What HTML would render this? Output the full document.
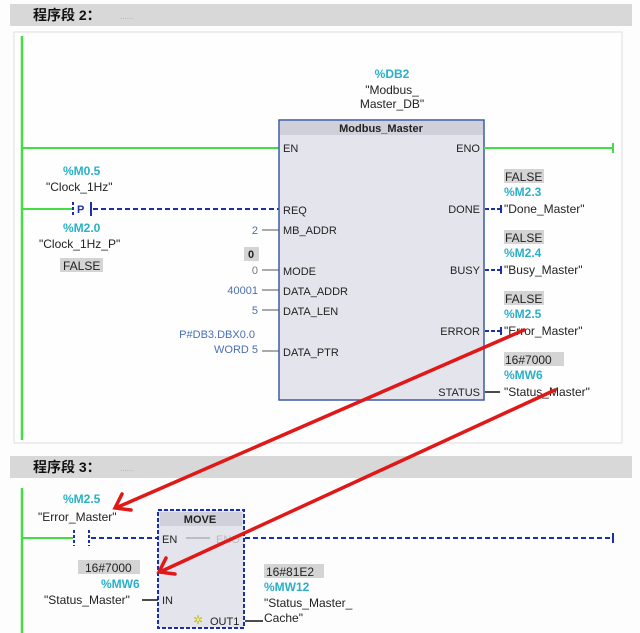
<!DOCTYPE html>
<html><head><meta charset="utf-8"><style>
html,body{margin:0;padding:0;background:#fdfdfd;width:640px;height:633px;overflow:hidden}
svg text{font-family:"Liberation Sans","Noto Sans CJK SC",sans-serif;font-size:11px;fill:#222}
.c{fill:#2ab0c8}
.b{fill:#4a6fb0}
.t{font-size:12px}
</style></head><body>
<svg width="640" height="633" viewBox="0 0 640 633" xmlns="http://www.w3.org/2000/svg">
<rect x="0" y="0" width="640" height="633" fill="#fdfdfd"/>
<rect x="10" y="4" width="622" height="22" fill="#d8d8d8"/>
<text x="33" y="20" style="font-size:14px;font-weight:bold;fill:#111">程序段 2：</text>
<text x="120" y="19" style="font-size:8px;fill:#aaa">......</text>
<rect x="14" y="32" width="608" height="411" fill="#fefefe" stroke="#ddd" stroke-width="1"/>
<rect x="10" y="456" width="622" height="22" fill="#d8d8d8"/>
<text x="33" y="472" style="font-size:14px;font-weight:bold;fill:#111">程序段 3：</text>
<text x="120" y="471" style="font-size:8px;fill:#aaa">......</text>

<line x1="22" y1="36" x2="22" y2="440" stroke="#44dd44" stroke-width="2.5"/>
<line x1="22" y1="148" x2="279" y2="148" stroke="#44dd44" stroke-width="2"/>
<line x1="22" y1="209" x2="72" y2="209" stroke="#44dd44" stroke-width="2"/>
<line x1="73" y1="202" x2="73" y2="216" stroke="#1a2fa8" stroke-width="2" stroke-dasharray="3,2"/>
<line x1="91" y1="202" x2="91" y2="216" stroke="#1a2fa8" stroke-width="2"/>
<text x="77" y="213" style="font-weight:bold;fill:#1a2fa8">P</text>
<line x1="93" y1="209" x2="279" y2="209" stroke="#1a2fa8" stroke-width="2" stroke-dasharray="5,3"/>
<text x="63" y="175" class="c t" style="font-weight:bold">%M0.5</text>
<text x="46" y="191" class="t">"Clock_1Hz"</text>
<text x="63" y="232" class="c t" style="font-weight:bold">%M2.0</text>
<text x="39" y="248" class="t">"Clock_1Hz_P"</text>
<rect x="60" y="258" width="43" height="14" fill="#d4d4d4"/>
<text x="63" y="270" class="t">FALSE</text>

<rect x="279" y="120" width="205" height="280" fill="#e4e4ec" stroke="#3b5aa8" stroke-width="1.5"/>
<rect x="280" y="121" width="203" height="14" fill="#cfd0da"/>
<text x="381" y="132" text-anchor="middle" style="font-weight:bold">Modbus_Master</text>
<text x="392" y="78" text-anchor="middle" class="c t" style="font-weight:bold">%DB2</text>
<text x="392" y="94" text-anchor="middle" class="t">"Modbus_</text>
<text x="392" y="108" text-anchor="middle" class="t">Master_DB"</text>
<g>
<text x="283" y="152">EN</text>
<text x="283" y="214">REQ</text>
<text x="283" y="234">MB_ADDR</text>
<text x="283" y="275">MODE</text>
<text x="283" y="295">DATA_ADDR</text>
<text x="283" y="315">DATA_LEN</text>
<text x="283" y="356">DATA_PTR</text>
<text x="480" y="152" text-anchor="end">ENO</text>
<text x="480" y="213" text-anchor="end">DONE</text>
<text x="480" y="274" text-anchor="end">BUSY</text>
<text x="480" y="335" text-anchor="end">ERROR</text>
<text x="480" y="396" text-anchor="end">STATUS</text>
</g>
<g stroke="#555" stroke-width="1">
<line x1="262" y1="230" x2="279" y2="230"/>
<line x1="262" y1="270" x2="279" y2="270"/>
<line x1="262" y1="290" x2="279" y2="290"/>
<line x1="262" y1="310" x2="279" y2="310"/>
<line x1="262" y1="351" x2="279" y2="351"/>
</g>
<text x="258" y="234" text-anchor="end" class="b">2</text>
<rect x="244" y="247" width="15" height="14" fill="#d4d4d4"/>
<text x="251" y="258" text-anchor="middle" style="font-weight:bold">0</text>
<text x="258" y="274" text-anchor="end" style="fill:#777">0</text>
<text x="258" y="294" text-anchor="end" class="b">40001</text>
<text x="258" y="314" text-anchor="end" class="b">5</text>
<text x="255" y="338" text-anchor="end" class="b">P#DB3.DBX0.0</text>
<text x="258" y="353" text-anchor="end" class="b">WORD 5</text>

<line x1="484" y1="148" x2="613" y2="148" stroke="#44dd44" stroke-width="2"/>
<line x1="613" y1="143" x2="613" y2="153" stroke="#44dd44" stroke-width="2"/>
<g stroke="#1a2fa8" stroke-width="2">
<line x1="485" y1="209" x2="500" y2="209" stroke-dasharray="4,2"/><line x1="501" y1="205" x2="501" y2="213"/>
<line x1="485" y1="270" x2="500" y2="270" stroke-dasharray="4,2"/><line x1="501" y1="266" x2="501" y2="274"/>
<line x1="485" y1="331" x2="500" y2="331" stroke-dasharray="4,2"/><line x1="501" y1="327" x2="501" y2="335"/>
</g>
<line x1="485" y1="392" x2="500" y2="392" stroke="#111" stroke-width="1.5"/>
<rect x="504" y="169" width="40" height="14" fill="#d4d4d4"/><text x="505" y="181" class="t">FALSE</text>
<text x="504" y="196" class="c t" style="font-weight:bold">%M2.3</text>
<text x="504" y="213" class="t">"Done_Master"</text>
<rect x="504" y="230" width="40" height="14" fill="#d4d4d4"/><text x="505" y="242" class="t">FALSE</text>
<text x="504" y="257" class="c t" style="font-weight:bold">%M2.4</text>
<text x="504" y="274" class="t">"Busy_Master"</text>
<rect x="504" y="291" width="40" height="14" fill="#d4d4d4"/><text x="505" y="303" class="t">FALSE</text>
<text x="504" y="318" class="c t" style="font-weight:bold">%M2.5</text>
<text x="504" y="335" class="t">"Error_Master"</text>
<rect x="504" y="352" width="60" height="14" fill="#d4d4d4"/><text x="505" y="364" class="t">16#7000</text>
<text x="504" y="379" class="c t" style="font-weight:bold">%MW6</text>
<text x="504" y="396" class="t">"Status_Master"</text>

<line x1="22" y1="488" x2="22" y2="633" stroke="#44dd44" stroke-width="2.5"/>
<line x1="22" y1="538" x2="73" y2="538" stroke="#44dd44" stroke-width="2"/>
<line x1="74" y1="530" x2="74" y2="546" stroke="#1a2fa8" stroke-width="2" stroke-dasharray="3,2"/>
<line x1="89" y1="530" x2="89" y2="546" stroke="#1a2fa8" stroke-width="2" stroke-dasharray="3,2"/>
<line x1="91" y1="538" x2="158" y2="538" stroke="#1a2fa8" stroke-width="2" stroke-dasharray="5,3"/>
<line x1="245" y1="538" x2="613" y2="538" stroke="#1a2fa8" stroke-width="2" stroke-dasharray="5,3"/>
<line x1="613" y1="533" x2="613" y2="543" stroke="#1a2fa8" stroke-width="2"/>
<text x="63" y="503" class="c t" style="font-weight:bold">%M2.5</text>
<text x="38" y="521" class="t">"Error_Master"</text>
<rect x="158" y="510" width="86" height="118" fill="#e4e4ec" stroke="#1a2fa8" stroke-width="2" stroke-dasharray="4,2"/>
<rect x="160" y="512" width="82" height="14" fill="#cfd0da"/>
<text x="200" y="523" text-anchor="middle" style="font-weight:bold">MOVE</text>
<text x="162" y="543">EN</text>
<line x1="186" y1="538" x2="210" y2="538" stroke="#999" stroke-width="1"/>
<text x="216" y="543" style="fill:#bbb">ENO</text>
<text x="162" y="604">IN</text>
<text x="210" y="625">OUT1</text>
<text x="193" y="624" style="fill:#c8c020;font-size:12px">✲</text>
<rect x="78" y="560" width="62" height="14" fill="#d4d4d4"/><text x="85" y="572" class="t">16#7000</text>
<text x="101" y="588" class="c t" style="font-weight:bold">%MW6</text>
<text x="44" y="604" class="t">"Status_Master"</text>
<line x1="142" y1="600" x2="158" y2="600" stroke="#111" stroke-width="1.5"/>
<line x1="245" y1="621" x2="263" y2="621" stroke="#111" stroke-width="1.5"/>
<rect x="264" y="564" width="60" height="14" fill="#d4d4d4"/><text x="266" y="576" class="t">16#81E2</text>
<text x="264" y="591" class="c t" style="font-weight:bold">%MW12</text>
<text x="264" y="607" class="t">"Status_Master_</text>
<text x="264" y="622" class="t">Cache"</text>

<g stroke="#e01818" stroke-width="3.5" fill="none" stroke-linecap="round">
<line x1="524" y1="330" x2="118" y2="507"/>
<polyline points="122,494 115,508 131,510"/>
<line x1="555" y1="390" x2="162" y2="571"/>
<polyline points="166,558 159,572 175,574"/>
</g>
</svg>
</body></html>
